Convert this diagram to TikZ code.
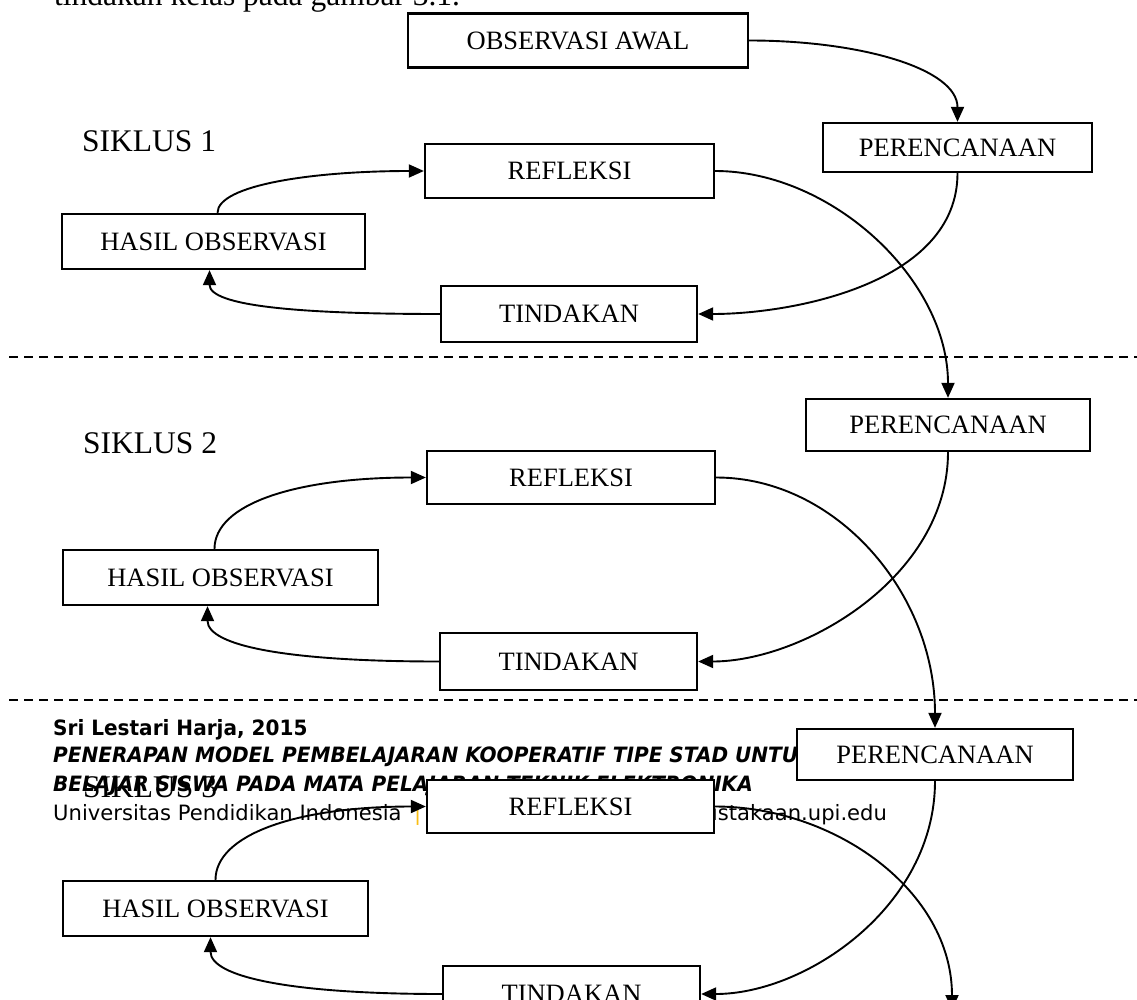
\documentclass[tikz,border=0pt]{standalone}
\usepackage{fontspec}
\setmainfont{Liberation Serif}
\newfontfamily\footfont{DejaVu Sans}
\newfontfamily\footboldfont[FakeStretch=0.95]{DejaVu Sans}
\usetikzlibrary{arrows.meta}
\definecolor{footbar}{RGB}{250,190,20}

\begin{document}
\begin{tikzpicture}[x=1pt,y=1pt,
    stage/.style={draw,line width=2.3pt,fill=white,minimum height=54pt,inner sep=0pt,font=\fontsize{26.5}{30}\selectfont},
    flow/.style={line width=1.9pt,-{Triangle[length=15pt,width=13pt]}},
    divider/.style={line width=1.5pt,dash pattern=on 9pt off 6pt},
    siklus/.style={anchor=base west,inner sep=0pt,font=\fontsize{31.5}{36}\selectfont},
    footer/.style={anchor=base west,inner sep=0pt}]
    \useasboundingbox (0,0) rectangle (1137,-1000);
    \clip (0,0) rectangle (1137,-1000);
    \fill[white] (0,0) rectangle (1137,-1000);

    \node[siklus] (lead) at (54,-6) {tindakan kelas pada gambar 3.1.};

    \node[footer,font=\footboldfont\fontsize{21.1}{24}\selectfont\bfseries] (author) at (53,-735) {Sri Lestari Harja, 2015};
    \node[footer,font=\footboldfont\fontsize{21.1}{24}\selectfont\bfseries\itshape] (title1) at (53,-762) {PENERAPAN MODEL PEMBELAJARAN KOOPERATIF TIPE STAD UNTUK};
    \node[footer,font=\footboldfont\fontsize{21.1}{24}\selectfont\bfseries\itshape] (title2) at (53,-791) {BELAJAR SISWA PADA MATA PELAJARAN TEKNIK ELEKTRONIKA};
    \node[footer,font=\footfont\fontsize{21.1}{24}\selectfont] (univ) at (53,-820) {Universitas Pendidikan Indonesia\hspace{6pt} {\color{footbar}|}\hspace{6pt} repository.upi.edu\hspace{6pt} {\color{footbar}|}\hspace{6pt} perpustakaan.upi.edu};

    \node[siklus] (s1) at (82,-152) {SIKLUS 1};
    \node[siklus] (s2) at (83,-453) {SIKLUS 2};
    \node[siklus] (s3) at (83,-797) {SIKLUS 3};

    \coordinate (l1a) at (9,-357);
    \coordinate (l1b) at (1137,-357);
    \coordinate (l2a) at (9,-700);
    \coordinate (l2b) at (1137,-700);
    \draw[divider] (l1a) -- (l1b);
    \draw[divider] (l2a) -- (l2b);

    \node[stage,minimum width=340pt] (obs) at (578,-40.5) {OBSERVASI AWAL};

    \node[stage,minimum width=269pt,minimum height=49pt] (per1) at (957.5,-147.5) {PERENCANAAN};
    \node[stage,minimum width=289pt] (ref1) at (569.5,-171) {REFLEKSI};
    \node[stage,minimum width=303pt,minimum height=55pt] (has1) at (213.5,-241.5) {HASIL OBSERVASI};
    \node[stage,minimum width=256pt,minimum height=56pt] (tin1) at (569,-314) {TINDAKAN};

    \node[stage,minimum width=284pt,minimum height=52pt] (per2) at (948,-425) {PERENCANAAN};
    \node[stage,minimum width=288pt,minimum height=53pt] (ref2) at (571,-477.5) {REFLEKSI};
    \node[stage,minimum width=315pt,minimum height=55pt] (has2) at (220.5,-577.5) {HASIL OBSERVASI};
    \node[stage,minimum width=257pt,minimum height=57pt] (tin2) at (568.5,-661.5) {TINDAKAN};

    \node[stage,minimum width=276pt,minimum height=51pt] (per3) at (935,-754.5) {PERENCANAAN};
    \node[stage,minimum width=287pt,minimum height=53pt] (ref3) at (570.5,-806.5) {REFLEKSI};
    \node[stage,minimum width=305pt,minimum height=55pt] (has3) at (215.5,-908.5) {HASIL OBSERVASI};
    \node[stage,minimum width=257pt,minimum height=56pt] (tin3) at (571.5,-994) {TINDAKAN};
    \coordinate (next) at (952,-1010);

    \draw[flow] (obs.east) .. controls +(112,0) and +(0,53) .. (per1.north);

    \draw[flow] (per1.south) .. controls +(0,-110) and +(95,0) .. (tin1.east);
    \draw[flow] (tin1.west) .. controls +(-140,0) and +(0,-36) .. ([xshift=-4pt]has1.south);
    \draw[flow] ([xshift=4pt]has1.north) .. controls +(0,28) and +(-110,0) .. (ref1.west);
    \draw[flow] (ref1.east) .. controls +(116,0) and +(0,119) .. (per2.north);

    \draw[flow] (per2.south) .. controls +(0,-125) and +(105,0) .. (tin2.east);
    \draw[flow] (tin2.west) .. controls +(-150,0) and +(0,-40) .. ([xshift=-13pt]has2.south);
    \draw[flow] ([xshift=-6pt]has2.north) .. controls +(0,45) and +(-130,0) .. (ref2.west);
    \draw[flow] (ref2.east) .. controls +(120,0) and +(0,135) .. (per3.north);

    \draw[flow] (per3.south) .. controls +(0,-125) and +(105,0) .. (tin3.east);
    \draw[flow] (tin3.west) .. controls +(-150,0) and +(0,-40) .. ([xshift=-5pt]has3.south);
    \draw[flow] (has3.north) .. controls +(0,45) and +(-130,0) .. (ref3.west);
    \draw[flow] (ref3.east) .. controls +(120,0) and +(0,119) .. (next);
\end{tikzpicture}
\end{document}
